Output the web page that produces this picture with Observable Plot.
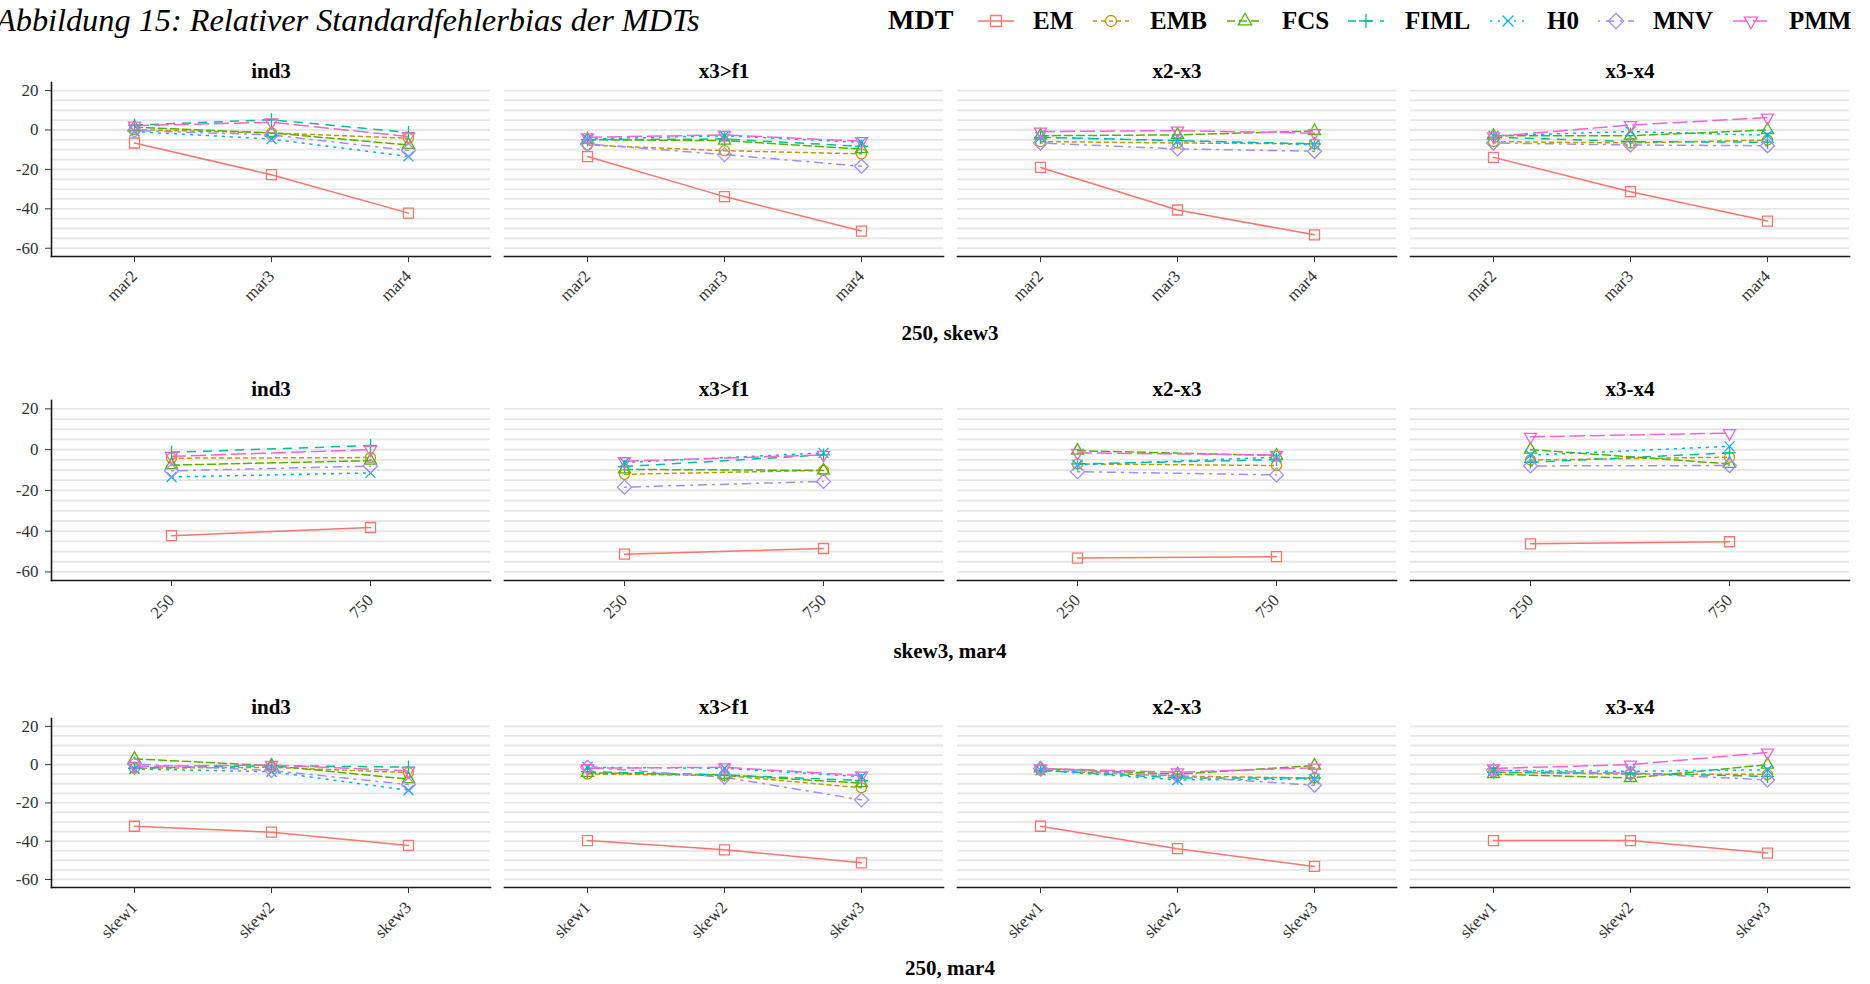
<!DOCTYPE html>
<html>
<head>
<meta charset="utf-8">
<script src="https://cdn.jsdelivr.net/npm/d3@7"></script>
<script src="https://cdn.jsdelivr.net/npm/@observablehq/plot@0.6"></script>
<style>
  body { margin: 0; background: #fff; }
  #root { position: relative; width: 1870px; height: 984px; overflow: hidden; font-family: "Liberation Serif", "Times New Roman", serif; color: #000; }
  .abs { position: absolute; white-space: nowrap; }
  .title { left: -4px; top: 0; font-style: italic; font-size: 32.3px; line-height: 40px; }
  .legtitle { top: 0; font-weight: bold; font-size: 28px; line-height: 40px; }
  .legtext { top: 1px; font-weight: bold; font-size: 25px; line-height: 40px; }
  .rowlab { left: 450px; width: 1000px; text-align: center; font-weight: bold; font-size: 21px; line-height: 26px; }
</style>
</head>
<body>
<div id="root"></div>
<script>
// ---------- data ----------
const methods = ["EM", "EMB", "FCS", "FIML", "H0", "MNV", "PMM"];
const panels = ["ind3", "x3>f1", "x2-x3", "x3-x4"];
const ticksRow1 = ["mar2", "mar3", "mar4"];
const ticksRow2 = ["250", "750"];
const ticksRow3 = ["skew1", "skew2", "skew3"];
const rowLabels = ["250, skew3", "skew3, mar4", "250, mar4"];
const yTicks = [-60, -40, -20, 0, 20];
const gridVals = [-60, -55, -50, -45, -40, -35, -30, -25, -20, -15, -10, -5, 0, 5, 10, 15, 20];

// Row 1: per method, panels ind3 | x3>f1 | x2-x3 | x3-x4, each mar2, mar3, mar4
const r1EM   = [-6.6, -22.7, -42.2,  -13.5, -33.8, -51.3,  -19.0, -40.6, -53.2,  -13.9, -31.3, -46.2];
const r1EMB  = [ 0.2,  -1.5,  -4.2,   -7.6, -10.5, -12.1,   -5.9,  -6.6,  -7.0,   -5.9,  -6.6,  -5.1];
const r1FCS  = [ 1.4,  -1.5,  -7.6,   -4.9,  -5.4,  -9.7,   -2.9,  -2.5,  -0.5,   -2.9,  -2.9,   0.0];
const r1FIML = [ 2.5,   5.2,  -1.3,   -4.9,  -4.6,  -8.3,   -3.7,  -5.4,  -7.0,   -3.7,  -5.9,  -6.2];
const r1H0   = [-0.8,  -4.6, -13.4,   -4.6,  -2.9,  -6.3,   -3.7,  -5.4,  -7.5,   -2.9,  -0.8,  -2.7];
const r1MNV  = [-0.3,  -2.5, -10.4,   -7.1, -12.5, -18.4,   -6.6,  -9.6, -10.8,   -6.6,  -7.6,  -8.0];
const r1PMM  = [ 2.2,   3.9,  -3.3,   -3.7,  -2.5,  -5.7,   -0.8,  -0.3,  -1.6,   -3.2,   2.5,   6.3];

// Row 2: each panel 250, 750
const r2EM   = [-42.2, -38.2,  -51.3, -48.5,  -53.2, -52.5,  -46.2, -45.2];
const r2EMB  = [ -4.2,  -3.9,  -12.1, -10.2,   -7.0,  -7.8,   -5.1,  -3.7];
const r2FCS  = [ -7.6,  -5.4,   -9.7, -10.2,   -0.5,  -2.9,    0.0,  -7.0];
const r2FIML = [ -1.3,   2.0,   -8.3,  -2.6,   -7.0,  -4.9,   -6.2,  -1.6];
const r2H0   = [-13.4, -11.4,   -6.3,  -1.6,   -7.5,  -3.7,   -2.7,   1.6];
const r2MNV  = [-10.4,  -8.1,  -18.4, -15.6,  -10.8, -12.4,   -8.0,  -7.8];
const r2PMM  = [ -3.3,   0.0,   -5.7,  -2.6,   -1.6,  -2.6,    6.3,   8.1];

// Row 3: each panel skew1, skew2, skew3
const r3EM   = [-32.2, -35.3, -42.2,  -39.7, -44.5, -51.3,  -32.2, -43.9, -53.2,  -39.7, -39.7, -46.2];
const r3EMB  = [ -1.9,  -1.4,  -4.2,   -4.9,  -5.7, -12.1,   -3.0,  -6.0,  -7.0,   -4.0,  -5.0,  -5.1];
const r3FCS  = [  3.0,  -0.5,  -7.6,   -4.3,  -5.4,  -9.7,   -2.0,  -5.0,  -0.5,   -5.0,  -7.0,   0.0];
const r3FIML = [ -1.9,  -0.5,  -1.3,   -3.7,  -5.4,  -8.3,   -3.0,  -7.0,  -7.0,   -4.0,  -4.5,  -6.2];
const r3H0   = [ -2.3,  -3.7, -13.4,   -1.4,  -1.9,  -6.3,   -3.0,  -8.0,  -7.5,   -3.0,  -3.5,  -2.7];
const r3MNV  = [  0.3,  -3.1, -10.4,   -1.4,  -6.6, -18.4,   -2.0,  -6.0, -10.8,   -3.0,  -4.5,  -8.0];
const r3PMM  = [ -0.9,  -0.2,  -3.3,   -1.9,  -1.4,  -5.7,   -2.0,  -4.0,  -1.6,   -2.0,   0.0,   6.3];

// ---------- styles ----------
const colors = ["#F8766D", "#C49A00", "#53B400", "#00C094", "#00B6EB", "#A58AFF", "#FB61D7"];
const dashes = ["none", "4,4", "8,4", "8,8", "2,6", "2,6,8,6", "14,6"];
const shapes = ["square", "circle", "triangle", "plus", "times", "diamond", "triangleDown"];

function drawShape(shape, ctx, r) {
  const a = r * 1.4;
  switch (shape) {
    case "square": ctx.moveTo(-r, -r); ctx.lineTo(r, -r); ctx.lineTo(r, r); ctx.lineTo(-r, r); ctx.closePath(); break;
    case "circle": ctx.moveTo(r, 0); ctx.arc(0, 0, r, 0, 2 * Math.PI); ctx.closePath(); break;
    case "triangle": ctx.moveTo(0, -a); ctx.lineTo(a * 0.866, a * 0.5); ctx.lineTo(-a * 0.866, a * 0.5); ctx.closePath(); break;
    case "triangleDown": ctx.moveTo(0, a); ctx.lineTo(a * 0.866, -a * 0.5); ctx.lineTo(-a * 0.866, -a * 0.5); ctx.closePath(); break;
    case "plus": ctx.moveTo(-1.3 * r, 0); ctx.lineTo(1.3 * r, 0); ctx.moveTo(0, -1.3 * r); ctx.lineTo(0, 1.3 * r); break;
    case "times": ctx.moveTo(-r, -r); ctx.lineTo(r, r); ctx.moveTo(r, -r); ctx.lineTo(-r, r); break;
    case "diamond": ctx.moveTo(0, -a); ctx.lineTo(a, 0); ctx.lineTo(0, a); ctx.lineTo(-a, 0); ctx.closePath(); break;
  }
}
const symbolOf = shape => ({ draw(ctx, size) { drawShape(shape, ctx, Math.sqrt(size / Math.PI)); } });

const root = document.getElementById("root");
function addDiv(cls, text, style) {
  const d = document.createElement("div");
  d.className = "abs " + cls;
  d.textContent = text;
  Object.assign(d.style, style || {});
  root.appendChild(d);
  return d;
}

// ---------- title & legend ----------
addDiv("title", "Abbildung 15: Relativer Standardfehlerbias der MDTs");
addDiv("legtitle", "MDT", { left: "888px" });
const keyCenters = [996, 1111, 1245, 1366, 1508, 1616, 1751];
const textLefts = [1033, 1150, 1282, 1405, 1547, 1653, 1789];
methods.forEach((m, i) => {
  const svg = d3.create("svg").attr("width", 40).attr("height", 30)
    .style("position", "absolute").style("left", (keyCenters[i] - 20) + "px").style("top", "6px");
  svg.append("line").attr("x1", 2).attr("x2", 38).attr("y1", 15).attr("y2", 15)
    .attr("stroke", colors[i]).attr("stroke-width", 1.4)
    .attr("stroke-dasharray", dashes[i] === "none" ? null : dashes[i]);
  const p = d3.path();
  drawShape(shapes[i], p, 5.5);
  svg.append("path").attr("d", p.toString()).attr("transform", "translate(20,15)")
    .attr("fill", "none").attr("stroke", colors[i]).attr("stroke-width", 1.3);
  root.appendChild(svg.node());
  addDiv("legtext", m, { left: textLefts[i] + "px" });
});

// ---------- rows ----------
function makeRow(ticks, vals, top, mt, ph, mb) {
  const data = [];
  methods.forEach((m, i) => vals[i].forEach((v, k) => data.push({
    method: m, panel: panels[Math.floor(k / ticks.length)], tick: ticks[k % ticks.length], value: v
  })));
  const marks = [
    Plot.gridY(gridVals, { stroke: "#E6E6E6", strokeOpacity: 1, strokeWidth: 1.8 }),
    Plot.frame({ anchor: "left", facetAnchor: "left", stroke: "#1a1a1a", strokeWidth: 1.6 }),
    Plot.frame({ anchor: "bottom", stroke: "#1a1a1a", strokeWidth: 1.6 }),
    Plot.axisY(yTicks, { tickSize: 6, tickPadding: 7, fontSize: 17, tickFormat: d => String(d), label: null, color: "#333" }),
    Plot.axisX({ tickRotate: -45, tickSize: 6, tickPadding: 11, fontSize: 17, label: null, color: "#333" }),
    Plot.text(panels, { fx: d => d, text: d => d, frameAnchor: "top", lineAnchor: "middle", dy: -11, fontSize: 21, fontWeight: "bold", fill: "#000" })
  ];
  methods.forEach((m, i) => {
    marks.push(Plot.line(data.filter(d => d.method === m), {
      x: "tick", y: "value", fx: "panel", stroke: colors[i], strokeWidth: 1.5,
      strokeDasharray: dashes[i] === "none" ? undefined : dashes[i]
    }));
  });
  methods.forEach((m, i) => {
    marks.push(Plot.dot(data.filter(d => d.method === m), {
      x: "tick", y: "value", fx: "panel", r: 5, symbol: symbolOf(shapes[i]),
      stroke: colors[i], fill: "none", strokeWidth: 1.3
    }));
  });
  const chart = Plot.plot({
    width: 1870, height: mt + ph + mb,
    marginLeft: 51, marginRight: 21, marginTop: mt, marginBottom: mb,
    style: { fontFamily: "'Liberation Serif', 'Times New Roman', serif", background: "transparent", overflow: "visible" },
    fx: { domain: panels, axis: null, paddingInner: 0.031, paddingOuter: 0 },
    x: { type: "point", domain: ticks, padding: 0.6 },
    y: { domain: [-64.2, 24.1] },
    marks
  });
  chart.style.position = "absolute";
  chart.style.left = "0px";
  chart.style.top = top + "px";
  root.appendChild(chart);
}

makeRow(ticksRow1, [r1EM, r1EMB, r1FCS, r1FIML, r1H0, r1MNV, r1PMM], 45, 37, 174, 60);
makeRow(ticksRow2, [r2EM, r2EMB, r2FCS, r2FIML, r2H0, r2MNV, r2PMM], 355, 45, 180, 50);
makeRow(ticksRow3, [r3EM, r3EMB, r3FCS, r3FIML, r3H0, r3MNV, r3PMM], 672, 46, 169, 60);

addDiv("rowlab", rowLabels[0], { top: "320px" });
addDiv("rowlab", rowLabels[1], { top: "638px" });
addDiv("rowlab", rowLabels[2], { top: "955px" });
</script>
</body>
</html>
